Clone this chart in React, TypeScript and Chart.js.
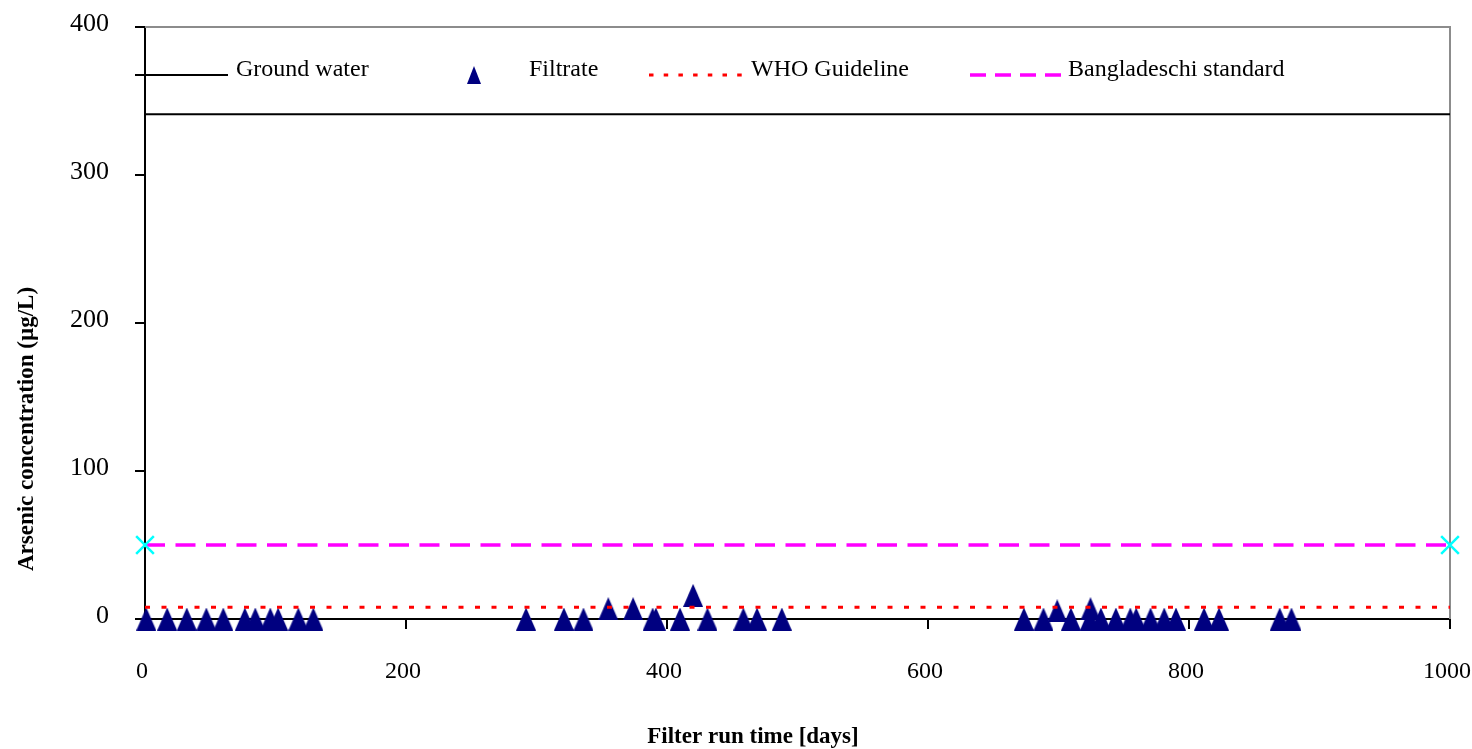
import React, { useEffect, useRef } from 'react';
import { Chart, registerables } from 'chart.js';

Chart.register(...registerables);

const FONT = "'Liberation Serif', 'Times New Roman', serif";

// Filtrate samples (days, µg/L)
const filtrateDays = [1, 17, 32, 47, 60, 76.5, 84.5, 96, 102, 117.5, 129, 292, 321, 336, 355, 374, 389, 391.5, 410, 420, 431, 458.5, 469, 488, 673.5, 688.5, 699, 709.5, 724, 724.5, 732.5, 744, 755, 759.5, 770.5, 781, 790, 811.5, 823, 869.5, 878.5];
const filtrateValues = [0, 0, 0, 0, 0, 0, 0, 0, 0, 0, 0, 0, 0, 0, 7, 7, 0, 0, 0, 16, 0, 0, 0, 0, 0, 0, 5.5, 0, 0, 7, 0, 0, 0, 0, 0, 0, 0, 0, 0, 0, 0];

const groundWaterDays = [0, 1000];
const groundWaterValues = [341, 341];
const whoDays = [0, 1000];
const whoValues = [8, 8];
const bdDays = [0, 1000];
const bdValues = [50, 50];

const xTickValues = [0, 200, 400, 600, 800, 1000];
const yTickValues = [0, 100, 200, 300, 400];

const legendLabels = ['Ground water', 'Filtrate', 'WHO Guideline', 'Bangladeschi standard'];
const xTitle = 'Filter run time [days]';
const yTitle = 'Arsenic concentration (µg/L)';

function makeTriangle(w: number, h: number, color: string) {
  const c = document.createElement('canvas');
  c.width = w;
  c.height = h;
  const ctx = c.getContext('2d')!;
  ctx.fillStyle = color;
  ctx.beginPath();
  ctx.moveTo(w / 2, 0);
  ctx.lineTo(w, h);
  ctx.lineTo(0, h);
  ctx.closePath();
  ctx.fill();
  return c;
}

const pairs = (xs: number[], ys: number[]) => xs.map((x, i) => ({ x, y: ys[i] }));

export default function App() {
  const ref = useRef<HTMLCanvasElement | null>(null);

  useEffect(() => {
    if (!ref.current) return;
    const tri = makeTriangle(20, 23, '#000080');
    const legendTri = makeTriangle(14, 18, '#000080');

    const framePlugin = {
      id: 'frame',
      beforeDatasetsDraw(chart: any) {
        const { ctx, chartArea: a } = chart;
        ctx.save();
        ctx.strokeStyle = '#8c8c8c';
        ctx.lineWidth = 2;
        ctx.beginPath();
        ctx.moveTo(a.left, a.top);
        ctx.lineTo(a.right, a.top);
        ctx.lineTo(a.right, a.bottom);
        ctx.stroke();
        ctx.restore();
      },
    };

    const labelsPlugin = {
      id: 'labels',
      afterDraw(chart: any) {
        const { ctx } = chart;
        ctx.save();
        // axis titles
        ctx.fillStyle = '#000';
        ctx.font = `bold 23px ${FONT}`;
        ctx.textAlign = 'center';
        ctx.textBaseline = 'middle';
        ctx.fillText(xTitle, 753, 737);
        ctx.save();
        ctx.translate(27, 429);
        ctx.rotate(-Math.PI / 2);
        ctx.fillText(yTitle, 0, 0);
        ctx.restore();

        // legend
        const ly = 75;
        const ty = 76;
        ctx.font = `24px ${FONT}`;
        ctx.textAlign = 'left';
        ctx.textBaseline = 'alphabetic';
        // ground water
        ctx.strokeStyle = '#000';
        ctx.lineWidth = 2;
        ctx.beginPath();
        ctx.moveTo(135, ly);
        ctx.lineTo(228, ly);
        ctx.stroke();
        ctx.fillText(legendLabels[0], 236, ty);
        // filtrate
        ctx.drawImage(legendTri, 474 - 7, ly - 9);
        ctx.fillText(legendLabels[1], 529, ty);
        // WHO
        ctx.strokeStyle = '#ff0000';
        ctx.lineWidth = 3;
        ctx.setLineDash([4.5, 10.2]);
        ctx.beginPath();
        ctx.moveTo(649, ly);
        ctx.lineTo(742, ly);
        ctx.stroke();
        ctx.fillText(legendLabels[2], 751, ty);
        // Bangladesh
        ctx.strokeStyle = '#ff00ff';
        ctx.lineWidth = 3.5;
        ctx.setLineDash([16, 9]);
        ctx.beginPath();
        ctx.moveTo(970, ly);
        ctx.lineTo(1061, ly);
        ctx.stroke();
        ctx.setLineDash([]);
        ctx.fillText(legendLabels[3], 1068, ty);
        ctx.restore();
      },
    };

    const chart = new Chart(ref.current, {
      type: 'scatter',
      data: {
        datasets: [
          {
            label: legendLabels[0],
            data: pairs(groundWaterDays, groundWaterValues),
            showLine: true,
            borderColor: '#000000',
            borderWidth: 2,
            pointRadius: 0,
            clip: false,
          },
          {
            label: legendLabels[2],
            data: pairs(whoDays, whoValues),
            showLine: true,
            borderColor: '#ff0000',
            borderWidth: 3,
            borderDash: [5, 11.5],
            pointRadius: 0,
            clip: false,
          },
          {
            label: legendLabels[3],
            data: pairs(bdDays, bdValues),
            showLine: true,
            borderColor: '#ff00ff',
            borderWidth: 3.5,
            borderDash: [20, 10.5],
            pointStyle: 'crossRot',
            pointRadius: 12.5,
            pointBorderColor: '#00ffff',
            pointBorderWidth: 2.5,
            pointBackgroundColor: '#00ffff',
            clip: false,
          },
          {
            label: legendLabels[1],
            data: pairs(filtrateDays, filtrateValues),
            showLine: false,
            pointStyle: tri as any,
            pointRadius: 10,
            backgroundColor: '#000080',
            borderColor: '#000080',
            clip: false,
          },
        ],
      },
      options: {
        animation: false,
        responsive: true,
        maintainAspectRatio: false,
        layout: { padding: { top: 27, right: 22, left: 0, bottom: 0 } },
        plugins: {
          legend: { display: false },
          tooltip: { enabled: false },
        },
        scales: {
          x: {
            type: 'linear',
            min: 0,
            max: 1000,
            afterBuildTicks(scale: any) {
              scale.ticks = xTickValues.map((v) => ({ value: v }));
            },
            afterFit(scale: any) {
              scale.height = 130;
              scale.paddingLeft = 0;
              scale.paddingRight = 0;
            },
            ticks: {
              color: '#000',
              font: { family: FONT, size: 24 },
              padding: 28,
              labelOffset: -3,
              maxRotation: 0,
              autoSkip: false,
              callback: (v: any) => String(v),
            },
            grid: {
              drawOnChartArea: false,
              drawTicks: true,
              tickLength: 10,
              color: '#000',
              lineWidth: 2,
            },
            border: { display: true, color: '#000', width: 2 },
          },
          y: {
            type: 'linear',
            min: 0,
            max: 400,
            afterBuildTicks(scale: any) {
              scale.ticks = yTickValues.map((v) => ({ value: v }));
            },
            afterFit(scale: any) {
              scale.width = 145;
              scale.paddingTop = 0;
              scale.paddingBottom = 0;
            },
            ticks: {
              color: '#000',
              font: { family: FONT, size: 26 },
              padding: 26,
              labelOffset: -3,
              autoSkip: false,
              callback: (v: any) => String(v),
            },
            grid: {
              drawOnChartArea: false,
              drawTicks: true,
              tickLength: 10,
              color: '#000',
              lineWidth: 2,
            },
            border: { display: true, color: '#000', width: 2 },
          },
        },
      },
      plugins: [framePlugin, labelsPlugin],
    } as any);

    return () => chart.destroy();
  }, []);

  return (
    <div style={{ position: 'fixed', left: 0, top: 0, width: '1472px', height: '749px', background: '#fff' }}>
      <canvas ref={ref} />
    </div>
  );
}
